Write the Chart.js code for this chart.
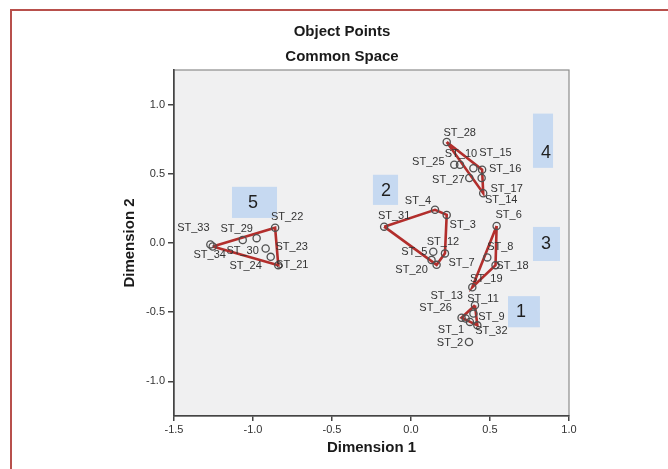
<!DOCTYPE html>
<html>
<head>
<meta charset="utf-8">
<script src="https://cdn.jsdelivr.net/npm/chart.js@4/dist/chart.umd.min.js"></script>
<style>
  html, body { margin: 0; padding: 0; background: #fff; overflow: hidden; }
  #wrap { position: relative; width: 668px; height: 469px; }
  #frame { position: absolute; left: 10px; top: 9px; width: 720px; height: 520px; border: 2px solid #b8504c; box-sizing: border-box; pointer-events: none; }
  canvas { position: absolute; left: 0; top: 0; }
</style>
</head>
<body>
<div id="wrap">
  <canvas id="c" width="668" height="469"></canvas>
  <div id="frame"></div>
</div>
<script>
// ---- data ----
const pointNames = ['ST_1','ST_2','ST_3','ST_4','ST_5','ST_6','ST_7','ST_8','ST_9','ST_10',
  'ST_11','ST_12','ST_13','ST_14','ST_15','ST_16','ST_17','ST_18','ST_19','ST_20',
  'ST_21','ST_22','ST_23','ST_24','ST_25','ST_26','ST_27','ST_28','ST_29','ST_30',
  'ST_31','ST_32','ST_33','ST_34'];
const dimension1 = [0.373, 0.367, 0.226, 0.152, 0.141, 0.542, 0.162, 0.483, 0.395, 0.310,
  0.405, 0.215, 0.346, 0.457, 0.395, 0.450, 0.447, 0.535, 0.388, 0.130,
  -0.840, -0.860, -0.888, -0.920, 0.274, 0.320, 0.369, 0.226, -1.065, -0.977,
  -0.170, 0.420, -1.270, -1.255];
const dimension2 = [-0.570, -0.715, 0.203, 0.240, -0.063, 0.123, -0.158, -0.104, -0.510, 0.565,
  -0.450, -0.075, -0.546, 0.360, 0.540, 0.530, 0.470, -0.160, -0.320, -0.123,
  -0.160, 0.110, -0.100, -0.040, 0.565, -0.540, 0.470, 0.730, 0.022, 0.035,
  0.118, -0.595, -0.010, -0.025];
const hull1 = ['ST_11','ST_26','ST_32','ST_11'];
const hull2 = ['ST_31','ST_4','ST_3','ST_12','ST_7','ST_31'];
const hull3 = ['ST_6','ST_18','ST_19','ST_6'];
const hull4 = ['ST_28','ST_16','ST_14','ST_28'];
const hull5 = ['ST_34','ST_22','ST_21','ST_34'];
const groupNumbers = ['1','2','3','4','5'];
const xTickValues = [-1.5, -1.0, -0.5, 0.0, 0.5, 1.0];
const yTickValues = [-1.0, -0.5, 0.0, 0.5, 1.0];
const chartTitles = ['Object Points', 'Common Space'];
const xTitle = 'Dimension 1';
const yTitle = 'Dimension 2';

// ---- layout / style (not data) ----
const labelOffsets = {
  ST_1:[-19,8], ST_2:[-19,1], ST_3:[16,10], ST_4:[-17,-9], ST_5:[-19,0], ST_6:[12,-11],
  ST_7:[25,-2], ST_8:[13,-10], ST_9:[18,3], ST_10:[1,-11], ST_11:[8,-6], ST_12:[-2,-11],
  ST_13:[-19,-23], ST_14:[18,7], ST_15:[22,-15], ST_16:[23,-1], ST_17:[25,11], ST_18:[17,1],
  ST_19:[14,-8], ST_20:[-20,10], ST_21:[14,0], ST_22:[12,-11], ST_23:[21,-10], ST_24:[-20,17],
  ST_25:[-26,-3], ST_26:[-26,-10], ST_27:[-21,2], ST_28:[13,-9], ST_29:[-6,-11], ST_30:[-14,13],
  ST_31:[10,-11], ST_32:[14,6], ST_33:[-17,-16], ST_34:[-3,9]
};
// group boxes in data units: [x1, yTop, x2, yBottom, textX, textY]
const groupBoxes = [
  [0.614, -0.384, 0.816, -0.609, 0.696, -0.50],
  [-0.241, 0.493, -0.082, 0.275, -0.158, 0.377],
  [0.772, 0.116, 0.943, -0.130, 0.854, -0.007],
  [0.772, 0.935, 0.899, 0.543, 0.854, 0.652],
  [-1.133, 0.406, -0.848, 0.181, -1.000, 0.290]
];

const pts = pointNames.map((n, i) => ({x: dimension1[i], y: dimension2[i], name: n}));
const byName = {};
pts.forEach(p => byName[p.name] = p);
const hullData = h => h.map(n => ({x: byName[n].x, y: byName[n].y}));

const RED = '#b22e2c';
const FONT = '"Liberation Sans", Arial, sans-serif';

const bgPlugin = {
  id: 'bg',
  beforeDraw(chart) {
    const {ctx, chartArea: a} = chart;
    ctx.save();
    ctx.fillStyle = '#f0f0f1';
    ctx.fillRect(a.left, a.top, a.right - a.left, a.bottom - a.top);
    ctx.strokeStyle = '#8c8c8c';
    ctx.lineWidth = 1.2;
    ctx.strokeRect(a.left, a.top, a.right - a.left, a.bottom - a.top);
    ctx.restore();
  }
};

const boxPlugin = {
  id: 'boxes',
  beforeDatasetsDraw(chart) {
    const {ctx, scales: {x, y}} = chart;
    ctx.save();
    groupBoxes.forEach((b, i) => {
      const x1 = x.getPixelForValue(b[0]), x2 = x.getPixelForValue(b[2]);
      const y1 = y.getPixelForValue(b[1]), y2 = y.getPixelForValue(b[3]);
      ctx.fillStyle = '#c6d9f1';
      ctx.fillRect(x1, y1, x2 - x1, y2 - y1);
      ctx.fillStyle = '#1f1f1f';
      ctx.font = '18px ' + FONT;
      ctx.textAlign = 'center';
      ctx.textBaseline = 'middle';
      ctx.fillText(groupNumbers[i], x.getPixelForValue(b[4]), y.getPixelForValue(b[5]));
    });
    ctx.restore();
  }
};

const labelPlugin = {
  id: 'ptlabels',
  afterDatasetsDraw(chart) {
    const {ctx, scales: {x, y}} = chart;
    ctx.save();
    ctx.font = '11px ' + FONT;
    ctx.fillStyle = '#333';
    ctx.textAlign = 'center';
    ctx.textBaseline = 'middle';
    pts.forEach(p => {
      const off = labelOffsets[p.name] || [0, -10];
      ctx.fillText(p.name, x.getPixelForValue(p.x) + off[0], y.getPixelForValue(p.y) + off[1]);
    });
    ctx.restore();
  }
};

const lineDs = (h) => ({
  type: 'line', data: hullData(h), showLine: true, fill: false,
  borderColor: RED, borderWidth: 2.6, pointRadius: 0, tension: 0, order: 2
});

new Chart(document.getElementById('c'), {
  type: 'scatter',
  data: {
    datasets: [
      { data: pts, pointRadius: 3.6, pointBorderWidth: 1.3, pointBorderColor: '#505050',
        pointBackgroundColor: 'rgba(0,0,0,0)', showLine: false, order: 1 },
      lineDs(hull1), lineDs(hull2), lineDs(hull3), lineDs(hull4), lineDs(hull5)
    ]
  },
  options: {
    responsive: false,
    animation: false,
    devicePixelRatio: 1,
    layout: { padding: { left: 115, right: 99, top: 0, bottom: 0 } },
    plugins: {
      legend: { display: false },
      tooltip: { enabled: false },
      title: {
        display: true, text: chartTitles, color: '#1a1a1a',
        font: { family: FONT, size: 15, weight: 'bold', lineHeight: 25.5 / 15 },
        padding: { top: 19, bottom: 0 }
      }
    },
    scales: {
      x: {
        type: 'linear', min: -1.5, max: 1.0,
        afterFit(s) { s.height = 53; },
        afterBuildTicks(s) { s.ticks = xTickValues.map(v => ({value: v})); },
        ticks: { color: '#333', font: { family: FONT, size: 11 }, padding: 2,
                 callback: v => Number(v).toFixed(1), maxRotation: 0, autoSkip: false },
        grid: { drawOnChartArea: false, drawTicks: true, tickLength: 5, color: '#444', lineWidth: 1.5 },
        border: { display: true, color: '#444', width: 1.6 },
        title: { display: true, text: xTitle, color: '#1a1a1a',
                 font: { family: FONT, size: 15, weight: 'bold' }, padding: { top: 0, bottom: 12 } }
      },
      y: {
        type: 'linear', min: -1.25, max: 1.25,
        afterFit(s) { s.width = 59; },
        afterBuildTicks(s) { s.ticks = yTickValues.map(v => ({value: v})); },
        ticks: { color: '#333', font: { family: FONT, size: 11 }, padding: 3,
                 callback: v => Number(v).toFixed(1), autoSkip: false },
        grid: { drawOnChartArea: false, drawTicks: true, tickLength: 6, color: '#444', lineWidth: 1.5 },
        border: { display: true, color: '#444', width: 1.6 },
        title: { display: true, text: yTitle, color: '#1a1a1a',
                 font: { family: FONT, size: 15, weight: 'bold' }, padding: { top: 6, bottom: 0 } }
      }
    }
  },
  plugins: [bgPlugin, boxPlugin, labelPlugin]
});
</script>
</body>
</html>
